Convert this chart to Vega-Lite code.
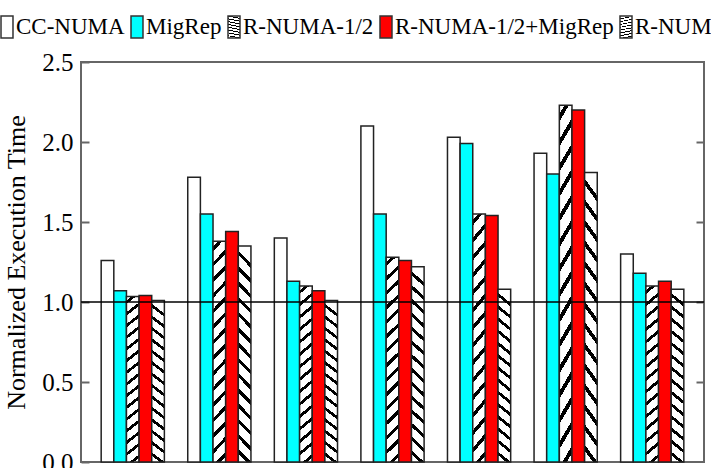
{
  "$schema": "https://vega.github.io/schema/vega-lite/v6.json",
  "width": 623,
  "height": 400,
  "autosize": {"type": "none"},
  "padding": {"left": 81, "top": 62, "right": 7, "bottom": 6},
  "background": "white",
  "config": {"view": {"stroke": "#666", "strokeWidth": 2}, "font": "Liberation Serif"},
  "params": [
    {"name": "hs", "value": [
      {"offset": 0, "color": "#fff"}, {"offset": 0.0233, "color": "#fff"}, {"offset": 0.0233, "color": "#000"}, {"offset": 0.0433, "color": "#000"}, {"offset": 0.0433, "color": "#fff"},
      {"offset": 0.09, "color": "#fff"}, {"offset": 0.09, "color": "#000"}, {"offset": 0.11, "color": "#000"}, {"offset": 0.11, "color": "#fff"},
      {"offset": 0.1567, "color": "#fff"}, {"offset": 0.1567, "color": "#000"}, {"offset": 0.1767, "color": "#000"}, {"offset": 0.1767, "color": "#fff"},
      {"offset": 0.2233, "color": "#fff"}, {"offset": 0.2233, "color": "#000"}, {"offset": 0.2433, "color": "#000"}, {"offset": 0.2433, "color": "#fff"},
      {"offset": 0.29, "color": "#fff"}, {"offset": 0.29, "color": "#000"}, {"offset": 0.31, "color": "#000"}, {"offset": 0.31, "color": "#fff"},
      {"offset": 0.3567, "color": "#fff"}, {"offset": 0.3567, "color": "#000"}, {"offset": 0.3767, "color": "#000"}, {"offset": 0.3767, "color": "#fff"},
      {"offset": 0.4233, "color": "#fff"}, {"offset": 0.4233, "color": "#000"}, {"offset": 0.4433, "color": "#000"}, {"offset": 0.4433, "color": "#fff"},
      {"offset": 0.49, "color": "#fff"}, {"offset": 0.49, "color": "#000"}, {"offset": 0.51, "color": "#000"}, {"offset": 0.51, "color": "#fff"},
      {"offset": 0.5567, "color": "#fff"}, {"offset": 0.5567, "color": "#000"}, {"offset": 0.5767, "color": "#000"}, {"offset": 0.5767, "color": "#fff"},
      {"offset": 0.6233, "color": "#fff"}, {"offset": 0.6233, "color": "#000"}, {"offset": 0.6433, "color": "#000"}, {"offset": 0.6433, "color": "#fff"},
      {"offset": 0.69, "color": "#fff"}, {"offset": 0.69, "color": "#000"}, {"offset": 0.71, "color": "#000"}, {"offset": 0.71, "color": "#fff"},
      {"offset": 0.7567, "color": "#fff"}, {"offset": 0.7567, "color": "#000"}, {"offset": 0.7767, "color": "#000"}, {"offset": 0.7767, "color": "#fff"},
      {"offset": 0.8233, "color": "#fff"}, {"offset": 0.8233, "color": "#000"}, {"offset": 0.8433, "color": "#000"}, {"offset": 0.8433, "color": "#fff"},
      {"offset": 0.89, "color": "#fff"}, {"offset": 0.89, "color": "#000"}, {"offset": 0.91, "color": "#000"}, {"offset": 0.91, "color": "#fff"},
      {"offset": 0.9567, "color": "#fff"}, {"offset": 0.9567, "color": "#000"}, {"offset": 0.9767, "color": "#000"}, {"offset": 0.9767, "color": "#fff"},
      {"offset": 1, "color": "#fff"}
    ]}
  ],
  "layer": [
    {
      "data": {"values": [
        {"g": "1", "s": "CC-NUMA", "v": 1.26}, {"g": "1", "s": "MigRep", "v": 1.07}, {"g": "1", "s": "R-NUMA-1/2", "v": 1.035}, {"g": "1", "s": "R-NUMA-1/2+MigRep", "v": 1.04}, {"g": "1", "s": "R-NUMA", "v": 1.01},
        {"g": "2", "s": "CC-NUMA", "v": 1.78}, {"g": "2", "s": "MigRep", "v": 1.55}, {"g": "2", "s": "R-NUMA-1/2", "v": 1.38}, {"g": "2", "s": "R-NUMA-1/2+MigRep", "v": 1.44}, {"g": "2", "s": "R-NUMA", "v": 1.35},
        {"g": "3", "s": "CC-NUMA", "v": 1.40}, {"g": "3", "s": "MigRep", "v": 1.13}, {"g": "3", "s": "R-NUMA-1/2", "v": 1.10}, {"g": "3", "s": "R-NUMA-1/2+MigRep", "v": 1.07}, {"g": "3", "s": "R-NUMA", "v": 1.01},
        {"g": "4", "s": "CC-NUMA", "v": 2.10}, {"g": "4", "s": "MigRep", "v": 1.55}, {"g": "4", "s": "R-NUMA-1/2", "v": 1.28}, {"g": "4", "s": "R-NUMA-1/2+MigRep", "v": 1.26}, {"g": "4", "s": "R-NUMA", "v": 1.22},
        {"g": "5", "s": "CC-NUMA", "v": 2.03}, {"g": "5", "s": "MigRep", "v": 1.99}, {"g": "5", "s": "R-NUMA-1/2", "v": 1.55}, {"g": "5", "s": "R-NUMA-1/2+MigRep", "v": 1.54}, {"g": "5", "s": "R-NUMA", "v": 1.08},
        {"g": "6", "s": "CC-NUMA", "v": 1.93}, {"g": "6", "s": "MigRep", "v": 1.80}, {"g": "6", "s": "R-NUMA-1/2", "v": 2.23}, {"g": "6", "s": "R-NUMA-1/2+MigRep", "v": 2.20}, {"g": "6", "s": "R-NUMA", "v": 1.81},
        {"g": "7", "s": "CC-NUMA", "v": 1.30}, {"g": "7", "s": "MigRep", "v": 1.18}, {"g": "7", "s": "R-NUMA-1/2", "v": 1.10}, {"g": "7", "s": "R-NUMA-1/2+MigRep", "v": 1.13}, {"g": "7", "s": "R-NUMA", "v": 1.08}
      ]},
      "mark": {"type": "bar", "stroke": "#222", "strokeWidth": 1.5},
      "encoding": {
        "x": {"field": "g", "type": "nominal", "sort": null, "axis": null, "scale": {"paddingInner": 0.27, "paddingOuter": 0.233}},
        "xOffset": {"field": "s", "type": "nominal", "sort": ["CC-NUMA", "MigRep", "R-NUMA-1/2", "R-NUMA-1/2+MigRep", "R-NUMA"], "scale": {"paddingInner": 0, "paddingOuter": 0}},
        "y": {"field": "v", "type": "quantitative", "scale": {"domain": [0, 2.5], "nice": false, "zero": true},
          "axis": {"orient": "left", "values": [0, 0.5, 1, 1.5, 2, 2.5], "format": ".1f", "title": "Normalized Execution Time",
            "titleFont": "Liberation Serif", "titleFontSize": 26, "titleFontWeight": "normal", "titleColor": "black", "titlePadding": 12,
            "labelFont": "Liberation Serif", "labelFontSize": 25, "labelColor": "black", "labelFlush": false, "labelOverlap": false,
            "tickSize": -8, "tickColor": "#666", "tickWidth": 2, "labelPadding": 16, "domain": false, "grid": false}},
        "fill": {"field": "s", "type": "nominal",
          "scale": {"domain": ["CC-NUMA", "MigRep", "R-NUMA-1/2", "R-NUMA-1/2+MigRep", "R-NUMA"],
            "range": ["#ffffff", "#00ffff",
              {"expr": "{gradient: 'linear', x1: 0, y1: 0, x2: 0.0634, y2: 1.056, stops: hs}"},
              "#ff0000",
              {"expr": "{gradient: 'linear', x1: 0.0634, y1: 0, x2: 0, y2: 1.056, stops: hs}"}]},
          "legend": {"orient": "none", "legendX": -86, "legendY": -47, "direction": "horizontal", "title": null,
            "symbolType": "M-0.545,-1L0.545,-1L0.545,1L-0.545,1Z", "symbolSize": 484, "symbolStrokeColor": "#333", "symbolStrokeWidth": 1.5,
            "labelFont": "Liberation Serif", "labelFontSize": 23, "labelColor": "black", "labelOffset": -3, "columnPadding": -4,
            "labelLimit": 0, "padding": 0}}
      }
    },
    {
      "data": {"values": [{}]},
      "mark": {"type": "rule", "color": "black", "strokeWidth": 1.5},
      "encoding": {
        "y": {"datum": 1, "type": "quantitative", "scale": {"domain": [0, 2.5], "nice": false},
          "axis": {"orient": "right", "values": [0.5, 1, 1.5, 2], "labels": false, "title": null, "tickSize": -8, "tickColor": "#666", "tickWidth": 2, "domain": false, "grid": false}}
      }
    }
  ],
  "resolve": {"axis": {"y": "independent"}}
}
